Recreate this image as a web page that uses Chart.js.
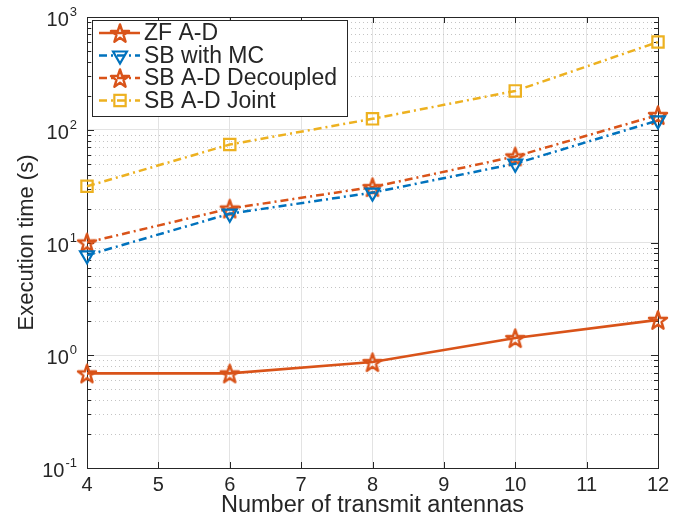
<!DOCTYPE html>
<html>
<head>
<meta charset="utf-8">
<script src="https://cdn.jsdelivr.net/npm/chart.js@4.4.1/dist/chart.umd.min.js"></script>
<style>
  html, body { margin: 0; padding: 0; background: #fff; }
  #wrap { width: 691px; height: 520px; }
</style>
</head>
<body>
<div id="wrap"><canvas id="chart" width="691" height="520"></canvas></div>
<script>
// data
const antennas = [4, 6, 8, 10, 12];
const zfAD = [0.69, 0.69, 0.87, 1.42, 2.06];
const sbMC = [7.7, 18, 27.7, 50, 121];
const sbDecoupled = [10, 20, 31, 58, 135];
const sbJoint = [31.5, 74, 125, 221, 600];
const xTicks = [4, 5, 6, 7, 8, 9, 10, 11, 12];
const yDecades = [0.1, 1, 10, 100, 1000];
const yExponents = ["-1", "0", "1", "2", "3"];

const ORANGE = "#D95319", BLUE = "#0072BD", YELLOW = "#EDB120", AXIS = "#262626";
const FONT = "'Liberation Sans', Arial, sans-serif";

// pentagram marker as an image, like matlab's 'p'
function starImage(color) {
    const s = 28, r = 9.5;
    const c = document.createElement("canvas");
    c.width = s; c.height = s;
    const g = c.getContext("2d");
    g.strokeStyle = color;
    g.lineWidth = 2.4;
    g.lineJoin = "round";
    g.beginPath();
    for (let i = 0; i < 10; i++) {
        const rad = i % 2 === 0 ? r : r * 0.39;
        const a = -Math.PI / 2 + i * Math.PI / 5;
        const px = s / 2 + rad * Math.cos(a), py = s / 2 + 1 + rad * Math.sin(a);
        if (i) g.lineTo(px, py); else g.moveTo(px, py);
    }
    g.closePath();
    g.stroke();
    return c;
}
const star = starImage(ORANGE);
const DASHDOT = [8, 4, 2, 4];

const toXY = (ys) => ys.map((v, i) => ({ x: antennas[i], y: v }));

const datasets = [
    { label: "ZF A-D", data: toXY(zfAD), borderColor: ORANGE, borderWidth: 2.6,
      pointStyle: star, pointRadius: 10, marker: "star" },
    { label: "SB with MC", data: toXY(sbMC), borderColor: BLUE, borderWidth: 2.5, borderDash: DASHDOT,
      pointStyle: "triangle", rotation: 180, pointRadius: 8, pointBorderWidth: 2.2, marker: "tri" },
    { label: "SB A-D Decoupled", data: toXY(sbDecoupled), borderColor: ORANGE, borderWidth: 2.5, borderDash: DASHDOT,
      pointStyle: star, pointRadius: 10, marker: "star" },
    { label: "SB A-D Joint", data: toXY(sbJoint), borderColor: YELLOW, borderWidth: 2.5, borderDash: DASHDOT,
      pointStyle: "rect", pointRadius: 8, pointBorderWidth: 2.2, marker: "rect" }
];
datasets.forEach(d => {
    d.backgroundColor = "transparent";
    d.pointBackgroundColor = "transparent";
    d.pointBorderColor = d.borderColor;
    d.tension = 0;
    d.clip = false;
});

// minor grid, ticks and axis box (drawn under the lines)
const axesPlugin = {
    id: "axesBox",
    beforeDatasetsDraw(chart) {
        const { ctx, chartArea: a, scales: { x, y } } = chart;
        ctx.save();
        // dotted minor grid
        ctx.strokeStyle = "#c4c4c4";
        ctx.lineWidth = 1;
        ctx.setLineDash([1, 3]);
        for (let k = -1; k < 3; k++) {
            for (let m = 2; m <= 9; m++) {
                const py = Math.round(y.getPixelForValue(m * Math.pow(10, k))) + 0.5;
                ctx.beginPath(); ctx.moveTo(a.left, py); ctx.lineTo(a.right, py); ctx.stroke();
            }
        }
        ctx.setLineDash([]);
        ctx.strokeStyle = AXIS;
        // minor ticks
        for (let k = -1; k < 3; k++) {
            for (let m = 2; m <= 9; m++) {
                const py = Math.round(y.getPixelForValue(m * Math.pow(10, k))) + 0.5;
                ctx.beginPath();
                ctx.moveTo(a.left, py); ctx.lineTo(a.left + 4, py);
                ctx.moveTo(a.right, py); ctx.lineTo(a.right - 4, py);
                ctx.stroke();
            }
        }
        // major ticks
        yDecades.forEach(v => {
            const py = Math.round(y.getPixelForValue(v)) + 0.5;
            ctx.beginPath();
            ctx.moveTo(a.left, py); ctx.lineTo(a.left + 7, py);
            ctx.moveTo(a.right, py); ctx.lineTo(a.right - 7, py);
            ctx.stroke();
        });
        xTicks.forEach(v => {
            const px = Math.round(x.getPixelForValue(v)) + 0.5;
            ctx.beginPath();
            ctx.moveTo(px, a.bottom); ctx.lineTo(px, a.bottom - 6);
            ctx.moveTo(px, a.top); ctx.lineTo(px, a.top + 6);
            ctx.stroke();
        });
        ctx.strokeRect(Math.round(a.left) + 0.5, Math.round(a.top) + 0.5,
            Math.round(a.right - a.left), Math.round(a.bottom - a.top));
        // y tick labels 10^k, right edge near x=77
        ctx.fillStyle = AXIS;
        ctx.textBaseline = "alphabetic";
        yDecades.forEach((v, i) => {
            const py = y.getPixelForValue(v);
            ctx.font = "13px " + FONT;
            const ew = ctx.measureText(yExponents[i]).width;
            ctx.textAlign = "right";
            ctx.fillText(yExponents[i], 77, py - 1);
            ctx.font = "20px " + FONT;
            ctx.fillText("10", 77 - ew - 1, py + 9);
        });
        ctx.restore();
    },
    afterDatasetsDraw(chart) {
        const { ctx } = chart;
        const bx = 92.5, by = 20.5, bw = 255, bh = 96;
        ctx.save();
        ctx.fillStyle = "#fff";
        ctx.fillRect(bx, by, bw, bh);
        ctx.strokeStyle = AXIS;
        ctx.lineWidth = 1;
        ctx.strokeRect(bx, by, bw, bh);
        chart.data.datasets.forEach((d, i) => {
            const ly = 33 + i * 22.5;
            ctx.strokeStyle = d.borderColor;
            ctx.lineWidth = d.borderWidth;
            ctx.setLineDash(d.borderDash || []);
            ctx.beginPath(); ctx.moveTo(99, ly); ctx.lineTo(140, ly); ctx.stroke();
            ctx.setLineDash([]);
            ctx.lineWidth = 2.2;
            const mx = 120;
            if (d.marker === "star") {
                ctx.drawImage(star, mx - star.width / 2, ly - star.height / 2);
            } else if (d.marker === "tri") {
                const r = 8;
                ctx.beginPath();
                ctx.moveTo(mx - r * Math.sin(Math.PI / 3), ly - r * 0.5);
                ctx.lineTo(mx + r * Math.sin(Math.PI / 3), ly - r * 0.5);
                ctx.lineTo(mx, ly + r);
                ctx.closePath(); ctx.stroke();
            } else {
                const h = 8 * Math.SQRT1_2;
                ctx.strokeRect(mx - h, ly - h, 2 * h, 2 * h);
            }
            ctx.fillStyle = AXIS;
            ctx.font = "23px " + FONT;
            ctx.textAlign = "left";
            ctx.textBaseline = "middle";
            ctx.fillText(d.label, 144, ly + 1);
        });
        ctx.restore();
    }
};

new Chart(document.getElementById("chart"), {
    type: "line",
    data: { datasets: datasets },
    options: {
        responsive: false,
        animation: false,
        layout: { padding: { left: 0, right: 33, top: 17, bottom: 0 } },
        plugins: { legend: { display: false }, tooltip: { enabled: false } },
        scales: {
            x: {
                type: "linear",
                min: 4, max: 12,
                afterBuildTicks: s => { s.ticks = xTicks.map(v => ({ value: v })); },
                afterFit: s => { s.height = 52; },
                ticks: { color: AXIS, font: { family: FONT, size: 20 }, padding: 5, maxRotation: 0 },
                grid: { color: "#e3e3e3", drawTicks: false },
                border: { display: false },
                title: { display: true, text: "Number of transmit antennas", color: AXIS,
                         font: { family: FONT, size: 23.5 }, padding: { top: 0, bottom: 0 } }
            },
            y: {
                type: "logarithmic",
                min: 0.1, max: 1000,
                afterBuildTicks: s => { s.ticks = yDecades.map(v => ({ value: v })); },
                afterFit: s => { s.width = 87; },
                ticks: { display: false },
                grid: { color: "#e3e3e3", drawTicks: false },
                border: { display: false },
                title: { display: true, text: "Execution time (s)", color: AXIS,
                         font: { family: FONT, size: 22 }, padding: { top: 14, bottom: 0 } }
            }
        }
    },
    plugins: [axesPlugin]
});
</script>
</body>
</html>
